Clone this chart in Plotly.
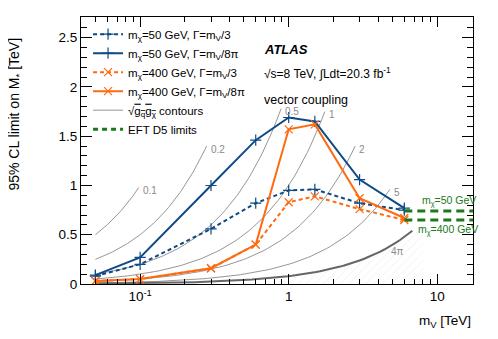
import numpy as np
import plotly.graph_objects as go

# mediator masses [TeV]
m_v = [0.05, 0.1, 0.3, 0.6, 1.0, 1.5, 3.0, 6.0]

# observed 95% CL limits on M* [TeV]
lim_50_wide = [0.08, 0.20, 0.56, 0.82, 0.95, 0.96, 0.82, 0.75]
lim_50_narrow = [0.09, 0.27, 1.00, 1.46, 1.69, 1.65, 1.06, 0.77]
lim_400_wide = [0.03, 0.05, 0.16, 0.40, 0.83, 0.89, 0.76, 0.65]
lim_400_narrow = [0.03, 0.05, 0.16, 0.40, 1.57, 1.62, 0.87, 0.67]

# EFT D5 limits (mchi = 50, 400 GeV)
eft_lim = [0.74, 0.65]
eft_labels = ["m<sub>χ</sub>=50 GeV", "m<sub>χ</sub>=400 GeV"]

# sqrt(gq gchi) contours: M* = mV / sqrt(gq gchi)
couplings = [0.1, 0.2, 0.5, 1.0, 2.0, 5.0, 4 * np.pi]
coupling_labels = ["0.1", "0.2", "0.5", "1", "2", "5", "4π"]
contour_end = [0.098, 0.28, 0.89, 1.75, 2.8, 4.8, 6.8]

x_range = [0.04, 17.4]
y_range = [0, 2.71]

blue = "#0f4a85"
orange = "#ff6a10"
green = "#1a7a1a"
grey = "#8a8a8a"
font = "Liberation Sans, Arial, sans-serif"

fig = go.Figure()

# hatched excluded region below 4pi
xs = np.geomspace(1.0, 8.0, 60)
fig.add_trace(go.Scatter(x=xs, y=xs / couplings[-1], mode="lines", fill="tozeroy",
                         line=dict(width=0), fillcolor="rgba(0,0,0,0)",
                         fillpattern=dict(shape="/", fgcolor="#e2e2e2", size=6, solidity=0.15),
                         showlegend=False, hoverinfo="skip"))

for i, (g, end) in enumerate(zip(couplings, contour_end)):
    xs = np.geomspace(0.05, end, 80)
    last = i == len(couplings) - 1
    fig.add_trace(go.Scatter(x=xs, y=xs / g, mode="lines",
                             line=dict(color="#666666" if last else grey, width=2 if last else 0.9),
                             showlegend=False, hoverinfo="skip"))

series = [
    ("m<sub>χ</sub>=50 GeV, Γ=m<sub>V</sub>/3", lim_50_wide, blue, "4px,3px", "cross-thin"),
    ("m<sub>χ</sub>=50 GeV, Γ=m<sub>V</sub>/8π", lim_50_narrow, blue, "solid", "cross-thin"),
    ("m<sub>χ</sub>=400 GeV, Γ=m<sub>V</sub>/3", lim_400_wide, orange, "4px,3px", "x-thin"),
    ("m<sub>χ</sub>=400 GeV, Γ=m<sub>V</sub>/8π", lim_400_narrow, orange, "solid", "x-thin"),
]
for name, vals, col, dash, sym in series:
    fig.add_trace(go.Scatter(x=m_v, y=vals, mode="lines+markers", name=name,
                             line=dict(color=col, width=2, dash=dash),
                             marker=dict(symbol=sym, size=8, line=dict(color=col, width=1.2))))

# legend-only entries
fig.add_trace(go.Scatter(x=[None], y=[None], mode="lines", line=dict(color=grey, width=0.9),
                         name="√<span style='text-decoration:overline'>g<sub>q</sub>g<sub>χ</sub></span> contours"))
fig.add_trace(go.Scatter(x=[None], y=[None], mode="lines",
                         line=dict(color=green, width=3, dash="5px,4px"), name="EFT D5 limits"))

for v in eft_lim:
    fig.add_trace(go.Scatter(x=[m_v[-1], x_range[1]], y=[v, v], mode="lines",
                             line=dict(color=green, width=3, dash="8px,5px"),
                             showlegend=False, hoverinfo="skip"))

ann = []
for g, lab, end in zip(couplings[:-1], coupling_labels[:-1], contour_end[:-1]):
    ann.append(dict(x=np.log10(end), y=end / g, text=lab, showarrow=False, xanchor="left",
                    yanchor="middle", xshift=2, yshift=-3, font=dict(size=10, color=grey)))
ann.append(dict(x=np.log10(5.4), y=0.33, text=coupling_labels[-1], showarrow=False,
                font=dict(size=10, color=grey)))

ann.append(dict(x=np.log10(17.4), y=eft_lim[0], text=eft_labels[0], showarrow=False,
                xanchor="right", yanchor="bottom", xshift=5, yshift=1, font=dict(size=10.5, color=green)))
ann.append(dict(x=np.log10(17.4), y=eft_lim[1], text=eft_labels[1], showarrow=False,
                xanchor="right", yanchor="top", xshift=7, yshift=-1, font=dict(size=10.5, color=green)))

ann += [
    dict(xref="paper", yref="paper", x=0.462, y=0.88, text="<b><i>ATLAS</i></b>", showarrow=False,
         xanchor="left", yanchor="middle", font=dict(size=13, color="black")),
    dict(xref="paper", yref="paper", x=0.462, y=0.79,
         text="√s=8 TeV, ∫Ldt=20.3 fb<sup>-1</sup>", showarrow=False,
         xanchor="left", yanchor="middle", font=dict(size=12, color="black")),
    dict(xref="paper", yref="paper", x=0.462, y=0.69, text="vector coupling", showarrow=False,
         xanchor="left", yanchor="middle", font=dict(size=12.5, color="black")),
    dict(xref="paper", yref="paper", x=1.0, y=-0.142, text="m<sub>V</sub> [TeV]", showarrow=False,
         xanchor="right", yanchor="middle", font=dict(size=13.5, color="black")),
    dict(xref="paper", yref="paper", x=-0.168, y=0.635, text="95% CL limit on M<sub>*</sub> [TeV]",
         showarrow=False, textangle=-90, xanchor="center", yanchor="middle",
         font=dict(size=14, color="black")),
]

minor_x = [k * 10.0 ** e for e in (-2, -1, 0, 1) for k in range(2, 10)]
minor_x = [v for v in minor_x if x_range[0] < v < x_range[1]]

# the page body has an 8px margin, so the figure is shrunk by that much
fig.update_layout(
    width=490, height=331,
    margin=dict(l=73, r=25, t=9, b=55),
    paper_bgcolor="white", plot_bgcolor="white",
    font=dict(family=font, size=13.5, color="black"),
    annotations=ann,
    legend=dict(x=0.018, y=0.99, xanchor="left", yanchor="top", bgcolor="rgba(0,0,0,0)",
                font=dict(size=11.5), itemwidth=30, tracegroupgap=0),
    xaxis=dict(type="log", range=[np.log10(x_range[0]), np.log10(x_range[1])],
               tickvals=[0.1, 1, 10], ticktext=["10<sup>-1</sup>", "1", "10"],
               ticks="inside", ticklen=10, tickwidth=1, tickcolor="black",
               mirror="allticks", showline=True, linecolor="black", linewidth=1,
               showgrid=False, zeroline=False,
               minor=dict(tickvals=minor_x, ticks="inside", ticklen=5, tickcolor="black", showgrid=False)),
    yaxis=dict(range=y_range, tickvals=[0, 0.5, 1, 1.5, 2, 2.5],
               ticktext=["0", "0.5", "1", "1.5", "2", "2.5"],
               ticks="inside", ticklen=11, tickwidth=1, tickcolor="black",
               mirror="allticks", showline=True, linecolor="black", linewidth=1,
               showgrid=False, zeroline=False,
               minor=dict(dtick=0.1, ticks="inside", ticklen=6, tickcolor="black", showgrid=False)),
)

fig.write_html("out.html")
